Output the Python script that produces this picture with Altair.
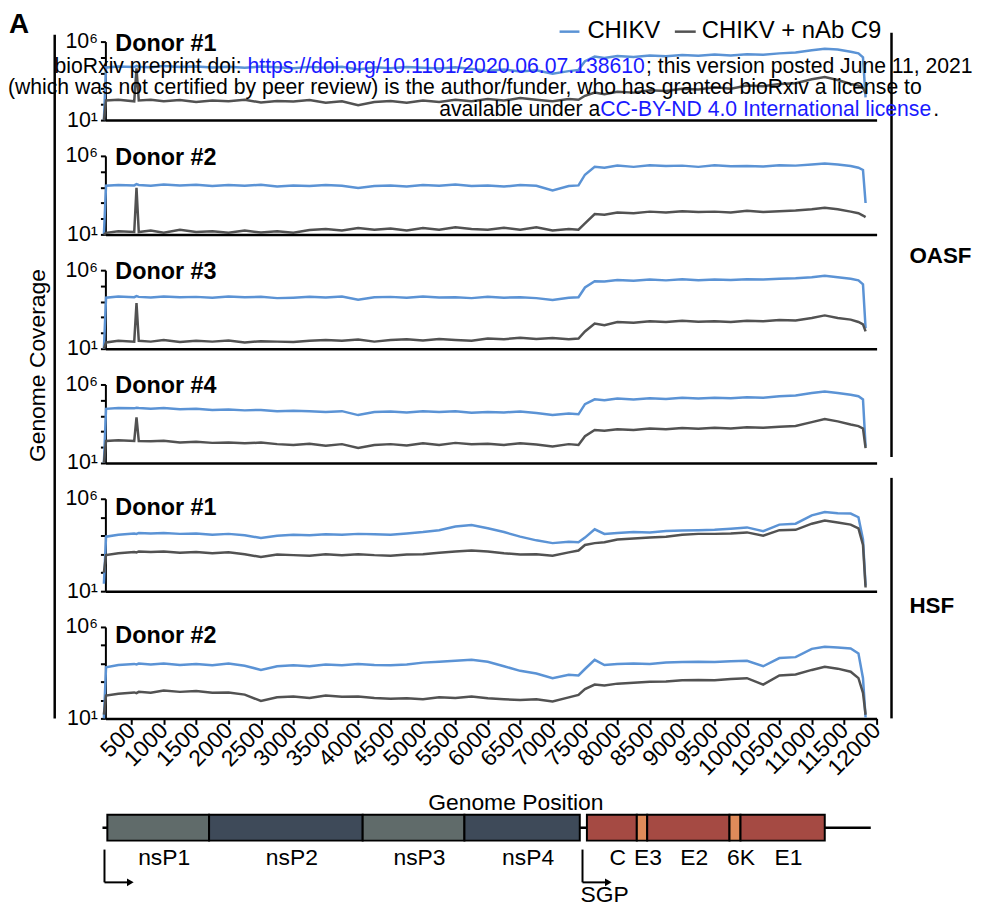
import altair as alt
import pandas as pd

# ---------------- data (coverage values are log10) ----------------
POS = [77, 110, 300, 545, 580, 615, 800,
       1000, 1250, 1500, 1750, 2000, 2250, 2500, 2750, 3000, 3250, 3500, 3750, 4000,
       4250, 4500, 4750, 5000, 5250, 5500, 5750, 6000, 6250, 6500, 6750, 7000, 7250,
       7400, 7500, 7650, 7800,
       8000, 8250, 8500, 8750, 9000, 9250, 9500, 9750, 10000, 10250, 10500, 10750, 11000,
       11200, 11400, 11600, 11720, 11790, 11830]

SERIES = ["CHIKV", "CHIKV + nAb C9"]

OASF1_CHIKV = [1.0, 4.35, 4.42, 4.38, 4.45, 4.4, 4.36,
               4.44, 4.38, 4.42, 4.35, 4.4, 4.33, 4.41, 4.37, 4.3, 4.39, 4.34, 4.4, 4.22,
               4.36, 4.3, 4.38, 4.33, 4.28, 4.36, 4.25, 4.15, 4.22, 4.1, 4.18, 3.95, 4.12,
               4.2, 4.75, 5.05, 4.95,
               5.08, 5.02, 5.12, 5.06, 5.15, 5.1, 5.18, 5.12, 5.2, 5.16, 5.25, 5.3, 5.45,
               5.55, 5.5, 5.35, 5.25, 5.0, 2.45]
OASF1_NAB = [1.0, 2.25, 2.3, 2.2, 4.3, 2.25, 2.3,
             2.2, 2.28, 2.15, 2.25, 2.2, 2.3, 2.12, 2.22, 2.18, 2.28, 2.1, 2.2, 1.95,
             2.15, 2.22, 2.1, 2.25, 2.15, 2.3, 2.2, 2.35, 2.25, 2.4, 2.3, 2.2, 2.35,
             2.3, 2.55, 2.75, 2.65,
             2.8, 2.75, 2.9, 2.85, 3.0, 2.95, 3.1, 3.0, 3.2, 3.15, 3.3, 3.35, 3.6,
             3.75, 3.55, 3.3, 3.2, 3.05, 2.7]

OASF2_CHIKV = [1.0, 4.1, 4.15, 4.12, 4.2, 4.15, 4.1,
               4.18, 4.12, 4.16, 4.08, 4.14, 4.1, 4.16, 4.05, 4.12, 4.08, 4.15, 4.1, 3.95,
               4.08, 4.12, 4.05, 4.15, 4.1, 4.18, 4.08, 4.12, 4.05, 4.14, 4.1, 3.8, 4.08,
               4.12, 4.8, 5.3, 5.25,
               5.38, 5.3, 5.4, 5.35, 5.38, 5.3, 5.4, 5.34, 5.36, 5.32, 5.4, 5.38, 5.45,
               5.52, 5.45, 5.35, 5.25, 5.1, 3.0]
OASF2_NAB = [1.0, 1.1, 1.2, 1.15, 3.97, 1.15, 1.25,
             1.1, 1.3, 1.15, 1.2, 1.1, 1.25, 1.12, 1.2, 1.1, 1.28, 1.35, 1.25, 1.4,
             1.3, 1.38, 1.25, 1.4, 1.3, 1.45, 1.35, 1.3, 1.42, 1.3, 1.45, 1.25, 1.35,
             1.3, 1.7, 2.3, 2.25,
             2.4, 2.35, 2.45, 2.4, 2.48, 2.42, 2.45, 2.4, 2.5, 2.42, 2.48, 2.52, 2.6,
             2.7, 2.6, 2.45, 2.35, 2.2, 2.1]

OASF3_CHIKV = [1.0, 4.25, 4.32, 4.28, 4.35, 4.3, 4.26,
               4.33, 4.28, 4.3, 4.24, 4.32, 4.27, 4.3, 4.22, 4.25, 4.3, 4.26, 4.32, 4.12,
               4.28, 4.3, 4.25, 4.33, 4.26, 4.28, 4.22, 4.3, 4.25, 4.28, 4.22, 4.1, 4.25,
               4.28, 4.9, 5.3, 5.28,
               5.38, 5.32, 5.4, 5.35, 5.42, 5.36, 5.4, 5.38, 5.42, 5.4, 5.45, 5.48, 5.55,
               5.65, 5.55, 5.45, 5.35, 5.1, 2.3]
OASF3_NAB = [1.0, 1.4, 1.5, 1.45, 3.9, 1.5, 1.45,
             1.55, 1.42, 1.5, 1.45, 1.52, 1.4, 1.48, 1.45, 1.42, 1.5, 1.55, 1.5, 1.58,
             1.45, 1.55, 1.6, 1.52, 1.62, 1.55, 1.5, 1.65, 1.6, 1.7, 1.62, 1.68, 1.6,
             1.65, 2.1, 2.6, 2.5,
             2.7, 2.65, 2.75, 2.7, 2.78, 2.72, 2.75, 2.7, 2.78, 2.75, 2.82, 2.8, 2.95,
             3.12, 2.95, 2.85, 2.7, 2.55, 2.1]

OASF4_CHIKV = [1.0, 4.45, 4.5, 4.48, 4.52, 4.5, 4.45,
               4.5, 4.42, 4.45, 4.38, 4.4, 4.35, 4.38, 4.3, 4.32, 4.3, 4.25, 4.3, 4.05,
               4.25, 4.28, 4.22, 4.3, 4.24, 4.3, 4.2, 4.25, 4.22, 4.28, 4.18, 4.05, 4.15,
               4.1, 4.75, 5.05, 5.0,
               5.1, 5.05, 5.12, 5.08, 5.15, 5.1, 5.15, 5.12, 5.18, 5.15, 5.25, 5.3, 5.45,
               5.55, 5.45, 5.35, 5.25, 5.05, 2.05]
OASF4_NAB = [1.0, 2.4, 2.45, 2.4, 3.9, 2.4, 2.38,
             2.42, 2.3, 2.35, 2.28, 2.3, 2.25, 2.3, 2.2, 2.15, 2.22, 2.1, 2.2, 1.95,
             2.15, 2.2, 2.12, 2.25, 2.15, 2.28, 2.2, 2.22, 2.15, 2.25, 2.18, 2.05, 2.2,
             2.15, 2.7, 3.1, 3.05,
             3.15, 3.1, 3.2, 3.15, 3.22, 3.18, 3.25, 3.2, 3.28, 3.25, 3.3, 3.35, 3.6,
             3.8, 3.65, 3.45, 3.35, 3.2, 1.95]

HSF1_CHIKV = [1.4, 3.95, 4.05, 4.12, 4.1, 4.15, 4.12,
              4.15, 4.1, 4.12, 4.05, 4.1, 4.02, 3.88, 4.0, 4.05, 4.02, 4.08, 4.05, 4.1,
              4.08, 4.05, 4.12, 4.2, 4.3, 4.5, 4.58, 4.4, 4.2, 3.95, 3.75, 3.6, 3.68,
              3.65, 3.9, 4.35, 4.1,
              4.15, 4.2, 4.18, 4.25, 4.28, 4.3, 4.32, 4.38, 4.45, 4.25, 4.6, 4.65, 5.1,
              5.28, 5.22, 5.2, 5.0, 3.8, 1.3]
HSF1_NAB = [2.0, 2.95, 3.05, 3.12, 3.1, 3.15, 3.12,
            3.15, 3.08, 3.12, 3.05, 3.1, 3.0, 2.85, 2.98, 2.95, 2.92, 3.0, 2.95, 3.0,
            2.95, 2.92, 2.98, 3.0, 3.08, 3.15, 3.2, 3.15, 3.05, 2.98, 3.0, 2.92, 3.1,
            3.2, 3.5, 3.6, 3.65,
            3.8, 3.85, 3.9, 3.95, 4.05, 4.1, 4.1, 4.12, 4.18, 4.0, 4.3, 4.32, 4.65,
            4.82, 4.72, 4.6, 4.4, 3.5, 1.2]

HSF2_CHIKV = [1.0, 3.8, 3.92, 3.98, 3.95, 4.0, 3.95,
              4.0, 3.92, 3.98, 3.9, 4.0, 3.88, 3.65, 3.85, 3.9, 3.85, 3.95, 3.9, 3.98,
              3.92, 3.9, 3.95, 4.05, 4.1, 4.15, 4.2, 4.1, 3.85, 3.6, 3.45, 3.2, 3.38,
              3.35, 3.7, 4.2, 3.92,
              3.98, 4.0, 3.98, 4.05, 4.08, 4.1, 4.08, 4.12, 4.15, 3.85, 4.3, 4.35, 4.8,
              4.92, 4.88, 4.82, 4.55, 3.2, 1.05]
HSF2_NAB = [1.2, 2.25, 2.35, 2.42, 2.38, 2.45, 2.4,
            2.52, 2.45, 2.5, 2.4, 2.42, 2.3, 1.95, 2.15, 2.2, 2.12, 2.25, 2.18, 2.2,
            2.12, 2.08, 2.1, 2.05, 2.15, 2.12, 2.2, 2.1, 2.05, 2.0, 2.05, 1.92, 2.15,
            2.28, 2.6, 2.85, 2.8,
            2.9, 2.95, 3.0, 3.02, 3.08, 3.1, 3.08, 3.15, 3.2, 2.85, 3.35, 3.4, 3.65,
            3.82, 3.72, 3.55, 3.2, 2.4, 1.2]

X_TICKS = [500, 1000, 1500, 2000, 2500, 3000, 3500, 4000, 4500, 5000, 5500, 6000,
           6500, 7000, 7500, 8000, 8500, 9000, 9500, 10000, 10500, 11000, 11500, 12000]
Y_TICKS = [10, 100, 1000, 10000, 100000, 1000000]

GENES = ["nsP1", "nsP2", "nsP3", "nsP4", "C", "E3", "E2", "6K", "E1"]
GENE_START = [130, 1700, 4070, 5640, 7530, 8300, 8460, 9730, 9900]
GENE_END = [1700, 4070, 5640, 7420, 8300, 8460, 9730, 9900, 11200]
GENE_GROUP = ["nsA", "nsB", "nsA", "nsB", "st", "sm", "st", "sm", "st"]
GENOME_SPAN = [55, 11910]
PROMOTER_NAMES = ["", "SGP"]
PROMOTER_POS = [86, 7462]

# ---------------- styles ----------------
FONT = "Liberation Sans"
BLUE = "#5b93d5"
DARK = "#525252"
LINK = "#1a1aff"
XSCALE = alt.Scale(domain=[100, 12000], nice=False, zero=False)
YSCALE = alt.Scale(type="log", domain=[10, 1000000], nice=False)
W = 776

Y_AXIS = alt.Axis(values=Y_TICKS, title=None, grid=False,
                  labelExpr="datum.value >= 999999 ? '10⁶' : (datum.value <= 10.001 ? '10¹' : '')",
                  tickSize=5, tickWidth=2, domainWidth=2, labelPadding=3,
                  labelFontSize=21.5)
X_AXIS_PLAIN = alt.Axis(labels=False, ticks=False, title=None, grid=False, domainWidth=2.5)
X_AXIS_LAST = alt.Axis(values=X_TICKS, format="d", title=None, grid=False, labelAngle=-45,
                       labelAlign="right", labelBaseline="middle", labelFontSize=23,
                       labelOverlap=False, labelFlush=False, labelPadding=2,
                       tickSize=6, tickWidth=2, domainWidth=2.5)


def one():
    return pd.DataFrame({"k": [0]})


def txt(text, x, y, size, weight="normal", color="black", align="left",
        baseline="alphabetic", angle=0):
    return alt.Chart(pd.DataFrame({"t": [text]})).mark_text(
        align=align, baseline=baseline, font=FONT, fontSize=size,
        fontWeight=weight, color=color, angle=angle
    ).encode(x=alt.value(x), y=alt.value(y), text="t:N")


def vrule(x, y1, y2, w=2.5):
    return alt.Chart(one()).mark_rule(color="black", strokeWidth=w).encode(
        x=alt.value(x), y=alt.value(y1), y2=alt.value(y2))


def hrule(x1, x2, y, color, w=2.5):
    return alt.Chart(one()).mark_rule(color=color, strokeWidth=w).encode(
        x=alt.value(x1), x2=alt.value(x2), y=alt.value(y))


def panel(name, blue, dark, height, label_y, last=False, extras=()):
    rows = []
    for p, b, d in zip(POS, blue, dark):
        rows.append({"pos": p, "series": SERIES[0], "cov": 10 ** b})
        rows.append({"pos": p, "series": SERIES[1], "cov": 10 ** d})
    df = pd.DataFrame(rows)
    lines = alt.Chart(df).mark_line(strokeWidth=2.5).encode(
        x=alt.X("pos:Q", scale=XSCALE, axis=X_AXIS_LAST if last else X_AXIS_PLAIN),
        y=alt.Y("cov:Q", scale=YSCALE, axis=Y_AXIS),
        color=alt.Color("series:N", scale=alt.Scale(domain=SERIES, range=[BLUE, DARK]),
                        legend=None),
    )
    label = txt(name, 10, label_y, 23.5, weight="bold")
    return alt.layer(lines, label, *extras).properties(width=W, height=height)


# ---------------- decorations on first panel ----------------
WM = 21.3
deco = [
    txt("A", -97, -9, 28, weight="bold"),
    hrule(457, 477, -10, BLUE),
    txt("CHIKV", 485, -4, 24),
    hrule(573, 594, -10, DARK),
    txt("CHIKV + nAb C9", 600, -4, 24),
    vrule(-51, -7, 681),
    vrule(791, -9, 418),
    vrule(791, 439, 681),
    txt("OASF", 809, 216, 22.5, weight="bold", baseline="middle"),
    txt("HSF", 809, 568, 22.5, weight="bold", baseline="middle"),
    txt("Genome Coverage", -68, 326, 23, align="center", baseline="middle", angle=270),
    txt("bioRxiv preprint doi:", 137, 32, WM, align="right"),
    txt("https://doi.org/10.1101/2020.06.07.138610", 143, 32, WM, color=LINK),
    txt("; this version posted June 11, 2021", 544, 32, WM),
    txt("(which was not certified by peer review) is the author/funder, who has granted bioRxiv a license to",
        -98, 53, WM),
    txt("available under a", 498, 75, WM, align="right"),
    txt("CC-BY-ND 4.0 International license", 498, 75, WM, color=LINK),
    txt(".", 833, 75, WM),
]

# ---------------- genome map on last panel ----------------
genes = pd.DataFrame({"gene": GENES, "start": GENE_START, "end": GENE_END, "grp": GENE_GROUP})
genes["mid"] = (genes["start"] + genes["end"]) / 2
span = pd.DataFrame({"start": [GENOME_SPAN[0]], "end": [GENOME_SPAN[1]]})
prom = pd.DataFrame({"name": PROMOTER_NAMES, "pos": PROMOTER_POS})

XG = dict(scale=XSCALE, axis=X_AXIS_LAST)
backbone = alt.Chart(span).mark_rule(color="black", strokeWidth=2.5).encode(
    x=alt.X("start:Q", **XG), x2="end:Q", y=alt.value(202))
boxes = alt.Chart(genes).mark_rect(stroke="black", strokeWidth=2).encode(
    x=alt.X("start:Q", **XG), x2="end:Q",
    y=alt.value(189), y2=alt.value(215),
    fill=alt.Fill("grp:N", scale=alt.Scale(domain=["nsA", "nsB", "st", "sm"],
                                           range=["#606b6a", "#3e4a59", "#a54a43", "#e08b5a"]),
                  legend=None))
gene_labels = alt.Chart(genes).mark_text(font=FONT, fontSize=23, align="center",
                                         baseline="alphabetic", dx=6, color="black").encode(
    x=alt.X("mid:Q", **XG), y=alt.value(240), text="gene:N")
prom_v = alt.Chart(prom).mark_rule(color="black", strokeWidth=2).encode(
    x=alt.X("pos:Q", **XG), y=alt.value(224), y2=alt.value(257))
prom_h = alt.Chart(prom).mark_rule(color="black", strokeWidth=2, x2Offset=24).encode(
    x=alt.X("pos:Q", **XG), x2="pos:Q", y=alt.value(257))
prom_tip = alt.Chart(prom).mark_point(shape="triangle-right", filled=True, size=60,
                                      color="black", opacity=1, xOffset=26).encode(
    x=alt.X("pos:Q", **XG), y=alt.value(257))
sgp = alt.Chart(prom).transform_filter("datum.name != ''").mark_text(
    font=FONT, fontSize=23, align="left", baseline="alphabetic", dx=-2, color="black").encode(
    x=alt.X("pos:Q", **XG), y=alt.value(277), text="name:N")
gp_title = txt("Genome Position", 413, 184, 23, align="center")

genome = [gp_title, backbone, boxes, gene_labels, prom_v, prom_h, prom_tip, sgp]

p1 = panel("Donor #1", OASF1_CHIKV, OASF1_NAB, 79, 9, extras=deco)
p2 = panel("Donor #2", OASF2_CHIKV, OASF2_NAB, 79, 9)
p3 = panel("Donor #3", OASF3_CHIKV, OASF3_NAB, 79, 9)
p4 = panel("Donor #4", OASF4_CHIKV, OASF4_NAB, 79, 9)
p5 = panel("Donor #1", HSF1_CHIKV, HSF1_NAB, 93, 16)
p6 = panel("Donor #2", HSF2_CHIKV, HSF2_NAB, 92, 16, last=True, extras=genome)

chart = alt.vconcat(p1, p2, p3, p4, p5, p6, spacing=36, bounds="flush").properties(
    padding=0, background="white"
).configure_view(stroke=None).configure_axis(
    labelFont=FONT, labelColor="black", domainColor="black", tickColor="black"
)

chart.save("out.html", embed_options={"renderer": "svg", "actions": False})
